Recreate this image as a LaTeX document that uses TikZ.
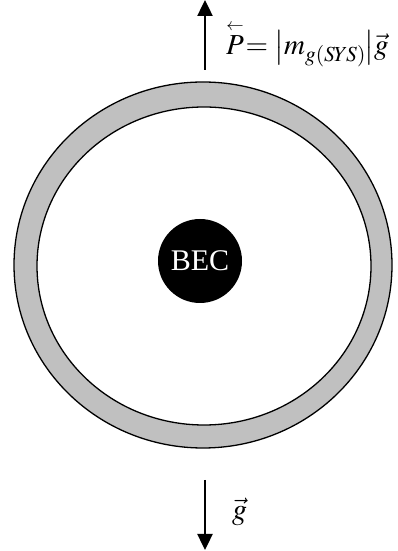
\documentclass[tikz,border=0pt]{standalone}
\usepackage{amsmath}
\usepackage{mathptmx}
\usepackage{fontspec}
\setmainfont{Liberation Serif}
\usetikzlibrary{arrows.meta}
\definecolor{ringgray}{HTML}{C0C0C0}
\tikzset{
  outline/.style={draw=black, line width=1.3pt},
  forcearrow/.style={line width=2.4pt, -{Triangle[length=16pt,width=15pt]}},
  eqlabel/.style={inner sep=0pt, anchor=base west}
}
\begin{document}
\begin{tikzpicture}[x=1pt,y=1pt]
\useasboundingbox (0,0) rectangle (398,551);
% ring
\path[outline, fill=ringgray] (203,286) ellipse [x radius=189, y radius=183];
\path[outline, fill=white] (204,285) ellipse [x radius=167, y radius=159];
\node[circle, fill=black, minimum size=84pt, inner sep=0pt] (bec) at (200,290) {};
\node[text=white, font=\rmfamily\fontsize{30}{34}\selectfont] (beclabel) at (bec) {BEC};
% arrows
\coordinate (ptop) at (205,551);
\coordinate (pbot) at (205,481);
\draw[forcearrow] (pbot) -- (ptop);
\coordinate (gtop) at (205,71);
\coordinate (gbot) at (205,1);
\draw[forcearrow] (gtop) -- (gbot);
\node[eqlabel, font=\fontsize{29}{34}\selectfont] (plabel) at (226,496)
  {$\overset{\scriptscriptstyle\leftarrow}{P}\mkern1mu{=}\mkern2mu\left|m_{g(S\mkern-1muY\mkern-1muS)}\mkern-1mu\right|\mkern-2mu\vec{g}$};
\node[eqlabel, font=\fontsize{30}{34}\selectfont] (glabel) at (232,31) {$\vec{g}$};
\end{tikzpicture}
\end{document}
